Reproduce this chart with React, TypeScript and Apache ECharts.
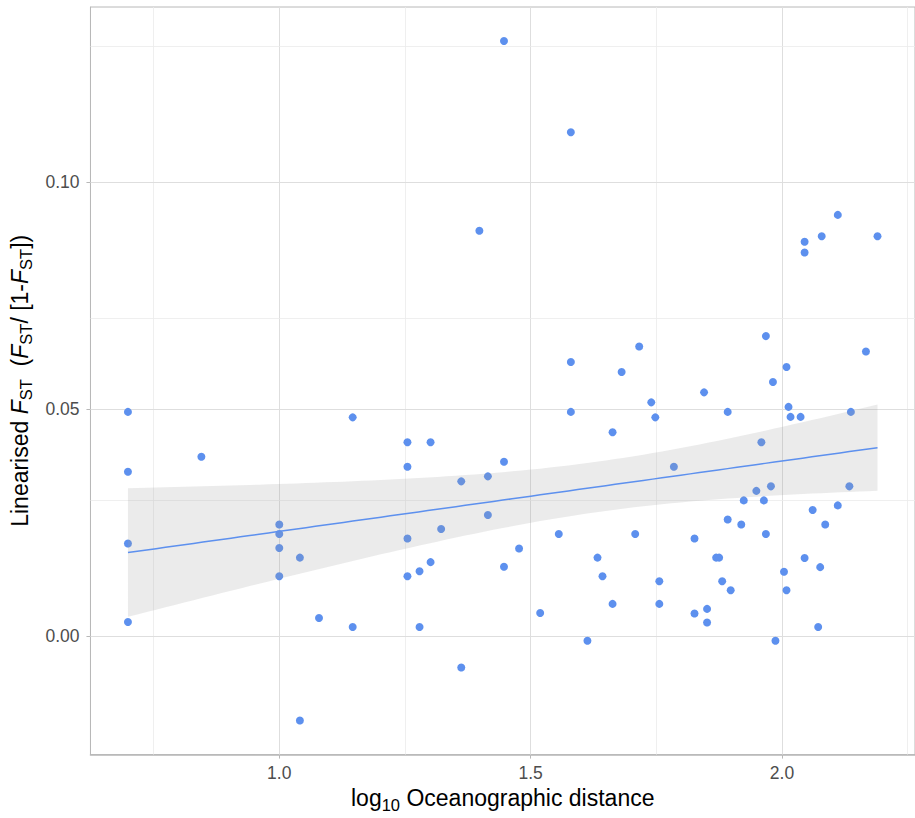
import React, { useEffect, useRef } from "react";
import * as echarts from "echarts";

// log10 oceanographic distance
const distX: number[] = [
  0.699, 0.699, 0.699, 0.699, 0.845, 1.0, 1.0, 1.0, 1.0, 1.041,
  1.041, 1.079, 1.146, 1.146, 1.255, 1.255, 1.255, 1.255, 1.279, 1.279,
  1.301, 1.301, 1.322, 1.362, 1.362, 1.398, 1.415, 1.415, 1.447, 1.447,
  1.447, 1.477, 1.519, 1.556, 1.58, 1.58, 1.58, 1.613, 1.633, 1.643,
  1.663, 1.663, 1.681, 1.708, 1.716, 1.74, 1.748, 1.756, 1.756, 1.785,
  1.826, 1.826, 1.845, 1.851, 1.851, 1.869, 1.875, 1.881, 1.892, 1.892,
  1.898, 1.919, 1.924, 1.949, 1.959, 1.964, 1.968, 1.968, 1.978, 1.982,
  1.987, 2.004, 2.009, 2.009, 2.013, 2.017, 2.037, 2.045, 2.045, 2.045,
  2.061, 2.072, 2.076, 2.079, 2.086, 2.111, 2.111, 2.134, 2.137, 2.167,
  2.19,
];
// linearised FST
const fstY: number[] = [
  0.0494, 0.0362, 0.0204, 0.0031, 0.0395, 0.0246, 0.0225, 0.0194, 0.0132, 0.0173,
  -0.0186, 0.004, 0.0482, 0.002, 0.0427, 0.0373, 0.0215, 0.0132, 0.0143, 0.002,
  0.0427, 0.0163, 0.0236, 0.0341, -0.0069, 0.0893, 0.0352, 0.0267, 0.1311, 0.0384,
  0.0153, 0.0193, 0.0051, 0.0225, 0.111, 0.0604, 0.0494, -0.001, 0.0173, 0.0132,
  0.0449, 0.0071, 0.0582, 0.0225, 0.0638, 0.0515, 0.0482, 0.0121, 0.0071, 0.0373,
  0.0215, 0.005, 0.0537, 0.006, 0.003, 0.0173, 0.0173, 0.0121, 0.0494, 0.0257,
  0.0101, 0.0246, 0.0299, 0.032, 0.0427, 0.0299, 0.0661, 0.0225, 0.033, 0.056,
  -0.001, 0.0142, 0.0593, 0.0101, 0.0505, 0.0483, 0.0483, 0.0869, 0.0845, 0.0172,
  0.0278, 0.002, 0.0152, 0.0881, 0.0246, 0.0928, 0.0288, 0.033, 0.0494, 0.0627,
  0.0881,
];

const xTickLabels: number[] = [1.0, 1.5, 2.0];
const xMinorGrid: number[] = [0.75, 1.25, 1.75, 2.25];
const yTickLabels: number[] = [0.0, 0.05, 0.1];
const yMinorGrid: number[] = [-0.025, 0.025, 0.075, 0.125];

const POINT_COLOR = "#5d90ee";
const FONT = "'Liberation Sans', Arial, Helvetica, sans-serif";

function fitModel(xs: number[], ys: number[]) {
  const n = xs.length;
  const mx = xs.reduce((a, b) => a + b, 0) / n;
  const my = ys.reduce((a, b) => a + b, 0) / n;
  let sxx = 0;
  let sxy = 0;
  for (let i = 0; i < n; i++) {
    sxx += (xs[i] - mx) * (xs[i] - mx);
    sxy += (xs[i] - mx) * (ys[i] - my);
  }
  const b = sxy / sxx;
  const a = my - b * mx;
  let sse = 0;
  for (let i = 0; i < n; i++) {
    const r = ys[i] - (a + b * xs[i]);
    sse += r * r;
  }
  const s = Math.sqrt(sse / (n - 2));
  const t = 1.987;
  return {
    predict: (x: number) => a + b * x,
    half: (x: number) => t * s * Math.sqrt(1 / n + ((x - mx) * (x - mx)) / sxx),
  };
}

export default function App() {
  const ref = useRef<HTMLDivElement>(null);

  useEffect(() => {
    if (!ref.current) return;
    const chart = echarts.init(ref.current, undefined, { renderer: "svg" });

    const model = fitModel(distX, fstY);
    const xLo = Math.min(...distX);
    const xHi = Math.max(...distX);
    const steps = 80;
    const bandX: number[] = [];
    for (let i = 0; i <= steps; i++) bandX.push(xLo + ((xHi - xLo) * i) / steps);
    const bandHi = bandX.map((x) => model.predict(x) + model.half(x));
    const bandLo = bandX.map((x) => model.predict(x) - model.half(x));
    const fitLine = bandX.map((x) => [x, model.predict(x)]);

    const majorStyle = { color: "#dedede", width: 1, type: "solid" as const };
    const minorStyle = { color: "#ebebeb", width: 0.8, type: "solid" as const };

    const gridLines = [
      ...xTickLabels.map((v) => ({ xAxis: v, lineStyle: majorStyle })),
      ...xMinorGrid.map((v) => ({ xAxis: v, lineStyle: minorStyle })),
      ...yTickLabels.map((v) => ({ yAxis: v, lineStyle: majorStyle })),
      ...yMinorGrid.map((v) => ({ yAxis: v, lineStyle: minorStyle })),
    ];

    const sub = { fontSize: 16.5, verticalAlign: "bottom", lineHeight: 16, fontFamily: FONT, color: "#000" };
    const norm = { fontSize: 23, lineHeight: 30, fontFamily: FONT, color: "#000" };
    const ital = { fontSize: 23, lineHeight: 30, fontFamily: FONT, fontStyle: "italic", color: "#000" };

    chart.setOption({
      animation: false,
      grid: {
        left: 89,
        top: 7,
        bottom: 57,
        right: -3,
        show: true,
        borderColor: "#b8b8b8",
        borderWidth: 1,
        backgroundColor: "#ffffff",
      },
      xAxis: {
        type: "value",
        min: 0.6244,
        max: 2.2646,
        name: "{n|log}{s|10}{n| Oceanographic distance}",
        nameLocation: "middle",
        nameGap: 28,
        nameTextStyle: { rich: { n: norm, s: sub } },
        axisLine: { show: true, onZero: false, lineStyle: { color: "#b8b8b8", width: 1.5 } },
        axisTick: { show: true, length: 4, customValues: xTickLabels, lineStyle: { color: "#b8b8b8" } },
        axisLabel: {
          customValues: xTickLabels,
          formatter: (v: number) => v.toFixed(1),
          color: "#4d4d4d",
          fontSize: 17.5,
          fontFamily: FONT,
          margin: 9,
        },
        splitLine: { show: false },
      },
      yAxis: {
        type: "value",
        min: -0.0261,
        max: 0.1386,
        name: "{n|Linearised }{i|F}{s|ST}{n|  (}{i|F}{s|ST}{n|/ [1-}{i|F}{s|ST}{n|])}",
        nameLocation: "middle",
        nameRotate: 90,
        nameGap: 52,
        nameTextStyle: { rich: { n: norm, i: ital, s: sub } },
        axisLine: { show: true, onZero: false, lineStyle: { color: "#b8b8b8", width: 1 } },
        axisTick: { show: true, length: 4, customValues: yTickLabels, lineStyle: { color: "#b8b8b8" } },
        axisLabel: {
          customValues: yTickLabels,
          formatter: (v: number) => v.toFixed(2),
          color: "#4d4d4d",
          fontSize: 17.5,
          fontFamily: FONT,
          margin: 11,
        },
        splitLine: { show: false },
      },
      series: [
        {
          type: "line",
          data: [],
          z: 1,
          silent: true,
          markLine: {
            silent: true,
            z: 1,
            symbol: ["none", "none"],
            label: { show: false },
            animation: false,
            data: gridLines,
          },
        },
        {
          type: "scatter",
          z: 2,
          symbolSize: 8,
          itemStyle: { color: POINT_COLOR, opacity: 1 },
          data: distX.map((x, i) => [x, fstY[i]]),
        },
        {
          type: "custom",
          z: 3,
          silent: true,
          data: [[bandX[0], bandHi[0]]],
          encode: { x: 0, y: 1 },
          renderItem: (_params: any, api: any) => {
            const upper = bandX.map((x, i) => api.coord([x, bandHi[i]]));
            const lower = bandX.map((x, i) => api.coord([x, bandLo[i]])).reverse();
            return {
              type: "polygon",
              shape: { points: upper.concat(lower) },
              style: { fill: "rgba(153,153,153,0.2)", stroke: "none" },
            };
          },
        },
        {
          type: "line",
          z: 4,
          showSymbol: false,
          silent: true,
          data: fitLine,
          lineStyle: { color: POINT_COLOR, width: 1.5 },
        },
      ],
    });

    return () => chart.dispose();
  }, []);

  return (
    <div
      ref={ref}
      style={{ position: "absolute", left: 0, top: 0, width: 915, height: 818, background: "#fff" }}
    />
  );
}
